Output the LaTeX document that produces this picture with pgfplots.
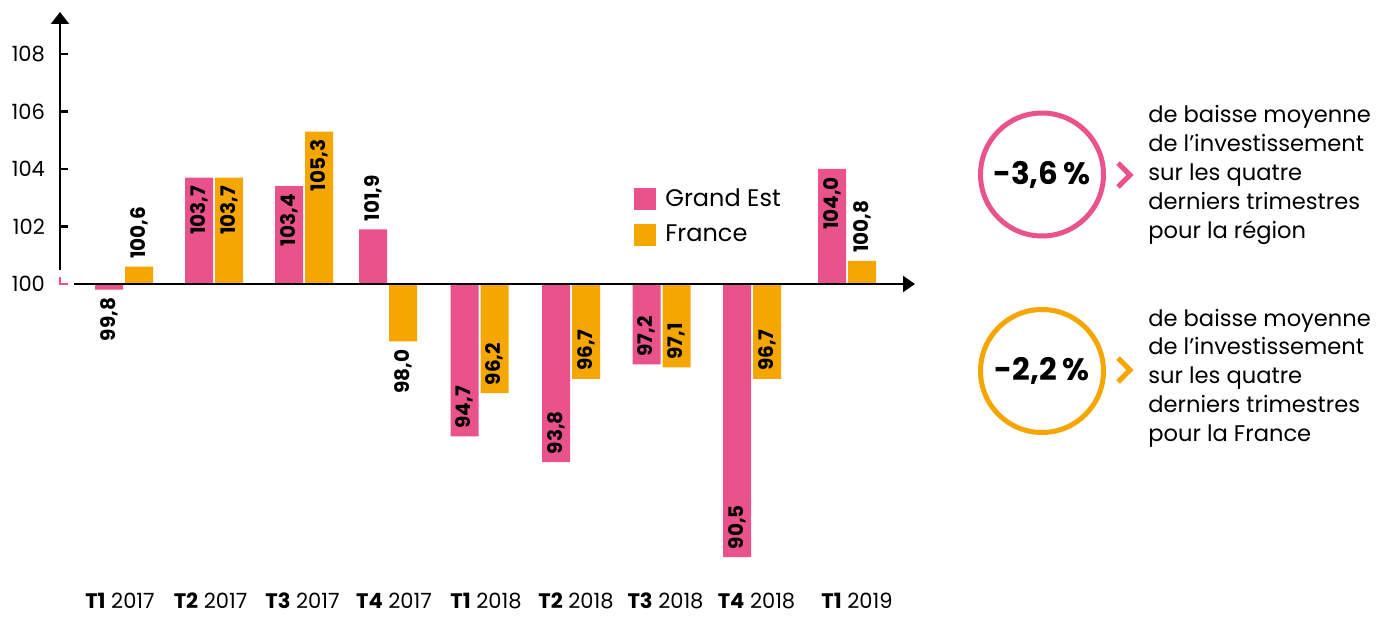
\documentclass[border=0pt]{standalone}
\usepackage{pgfplots}
\pgfplotsset{compat=1.18}
\usepackage{pgfplotstable}
\usepackage{fontspec}
\setmainfont{Poppins}
\usetikzlibrary{arrows.meta}
\definecolor{gepink}{HTML}{E9528A}
\definecolor{frorange}{HTML}{F5A600}

% x = bar-pair centre (px of reference), y = index value
\pgfplotstableread{
x y lab
124 99.8 99,8
214 103.7 103,7
304 103.4 103,4
388 101.9 101,9
479.5 94.7 94,7
571 93.8 93,8
661.5 97.2 97,2
752 90.5 90,5
847 104.0 104,0
}\grandest
\pgfplotstableread{
x y lab
124 100.6 100,6
214 103.7 103,7
304 105.3 105,3
388 98.0 98,0
479.5 96.2 96,2
571 96.7 96,7
661.5 97.1 97,1
752 96.7 96,7
847 100.8 100,8
}\france

\pgfplotsset{
  lbl/.style={draw=none, fill=none, forget plot, point meta=explicit symbolic, nodes near coords,
    nodes near coords style={font=\bfseries\fontsize{10}{12}\selectfont, rotate=90, anchor=#1, inner xsep=3.8pt, inner ysep=0pt, text=black}},
}

\begin{document}
\begin{tikzpicture}
\begin{axis}[
  at={(0,0)}, anchor=south west, scale only axis,
  width=427.5pt, height=274pt,
  xmin=60, xmax=915, ymin=-9.6, ymax=9.46,
  y filter/.expression={y-100},
  clip=false,
  axis line style={draw=none},
  ybar, bar width=14pt,
  ytick={2,4,6,8}, yticklabels={102,104,106,108},
  extra y ticks={0}, extra y tick labels={100},
  extra y tick style={major tick length=0pt},
  ytick pos=left, tick align=inside,
  major tick length=4pt,
  ytick style={line width=1.2pt, black},
  yticklabel style={font=\fontsize{10.5}{12}\selectfont, xshift=-4pt},
  xtick={120,210.5,302.5,394,486,576,665.5,756.5,857},
  xticklabels={{\textbf{T1} 2017},{\textbf{T2} 2017},{\textbf{T3} 2017},{\textbf{T4} 2017},{\textbf{T1} 2018},{\textbf{T2} 2018},{\textbf{T3} 2018},{\textbf{T4} 2018},{\textbf{T1} 2019}},
  xtick style={draw=none},
  xticklabel style={font=\fontsize{10.5}{12}\selectfont, anchor=base, inner ysep=0pt, yshift=-24pt},
  legend style={at={(rel axis cs:0.6713,0.686)}, anchor=north west, draw=none, fill=none, inner sep=0pt, font=\fontsize{12}{14}\selectfont, row sep=4pt,
    nodes={inner xsep=4.5pt}},
  legend cell align=left,
]
\addplot[fill=gepink, draw=none, bar shift=-7.5pt,
  legend image code/.code={\fill[gepink] (0pt,-5.5pt) rectangle (11pt,5.5pt);}]
  table[x=x, y=y] {\grandest};
\addlegendentry{Grand Est}
\addplot[fill=frorange, draw=none, bar shift=7.5pt,
  legend image code/.code={\fill[frorange] (0pt,-5.5pt) rectangle (11pt,5.5pt);}]
  table[x=x, y=y] {\france};
\addlegendentry{France}
% value labels
\addplot[lbl=east, bar shift=-7.5pt, skip coords between index={3}{8}] table[x=x, y=y, meta=lab] {\grandest};
\addplot[lbl=west, bar shift=-7.5pt, skip coords between index={0}{3}, skip coords between index={8}{9}] table[x=x, y=y, meta=lab] {\grandest};
\addplot[lbl=east, bar shift=7.5pt, skip coords between index={0}{1}, skip coords between index={4}{9}] table[x=x, y=y, meta=lab] {\france};
\addplot[lbl=west, bar shift=7.5pt, skip coords between index={1}{4}] table[x=x, y=y, meta=lab] {\france};
\end{axis}
% axes
\draw[line width=1.2pt, -{Triangle[width=9pt,length=6pt]}] (0pt,145pt) -- (0pt,274pt);
\draw[line width=1.1pt, -{Triangle[width=8pt,length=6pt]}] (7pt,138pt) -- (427.5pt,138pt);
\draw[gepink, line width=1pt] (0pt,141.5pt) -- (0pt,137.8pt) -- (4pt,137.8pt);
% side panels
\draw[gepink, line width=2.5pt] (491pt,192.75pt) circle (30.75pt);
\node[font=\bfseries\fontsize{15.5}{18}\selectfont] at (491pt,192.75pt) {-3,6\,\%};
\draw[gepink, line width=2.6pt, line cap=butt, line join=miter] (529pt,198.5pt) -- (535pt,192.5pt) -- (529pt,186.5pt);
\node[anchor=west, align=left, inner sep=0pt, font=\fontsize{11.3}{14.4}\selectfont] at (544pt,192.5pt)
  {de baisse moyenne\\de l’investissement\\sur les quatre\\derniers trimestres\\pour la région};
\draw[frorange, line width=2.5pt] (491pt,94.5pt) circle (30.75pt);
\node[font=\bfseries\fontsize{15.5}{18}\selectfont] at (491pt,94.5pt) {-2,2\,\%};
\draw[frorange, line width=2.6pt, line cap=butt, line join=miter] (529pt,101pt) -- (535pt,95pt) -- (529pt,89pt);
\node[anchor=west, align=left, inner sep=0pt, font=\fontsize{11.3}{14.4}\selectfont] at (544pt,91pt)
  {de baisse moyenne\\de l’investissement\\sur les quatre\\derniers trimestres\\pour la France};
\pgfresetboundingbox
\path[use as bounding box] (-30pt,-28pt) rectangle (663pt,280pt);
\end{tikzpicture}
\end{document}
